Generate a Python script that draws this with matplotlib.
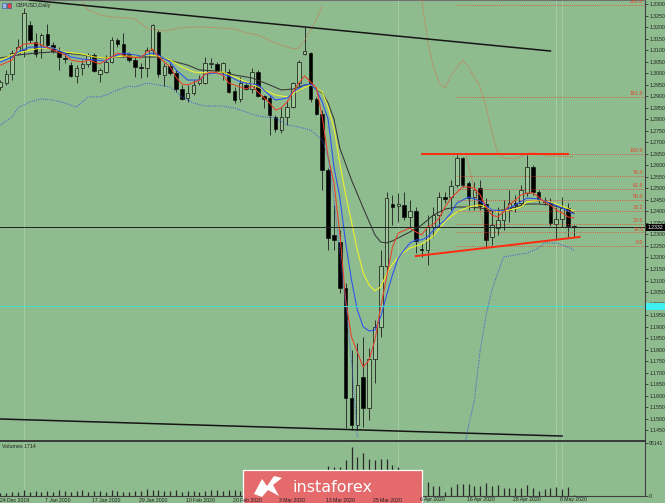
import matplotlib
matplotlib.use('Agg')
import matplotlib.pyplot as plt
import numpy as np
from matplotlib.patches import Rectangle, Polygon

# ---------------- data ----------------
symbol_title = "GBPUSD,Daily"
volume_title = "Volumes 1714"

opens = [
    1.2940, 1.2957, 1.2996, 1.3087, 1.3100, 1.3209, 1.3135, 1.3122, 1.3170, 1.3122,
    1.3096, 1.3066, 1.3035, 1.2988, 1.3022, 1.3040, 1.3079, 1.2996, 1.3005, 1.3048,
    1.3144, 1.3126, 1.3083, 1.3057, 1.3027, 1.3022, 1.3100, 1.3178, 1.2992, 1.3031,
    1.3001, 1.2931, 1.2892, 1.2914, 1.2957, 1.2957, 1.3040, 1.3040, 1.3005, 1.3005,
    1.2923, 1.2888, 1.2949, 1.2931, 1.3005, 1.2901, 1.2892, 1.2810, 1.2753, 1.2810,
    1.2853, 1.2957, 1.3083, 1.3087, 1.2888, 1.2823, 1.2580, 1.2298, 1.2267, 1.2068,
    1.1590, 1.1473, 1.1681, 1.1547, 1.1759, 1.1899, 1.2163, 1.2432, 1.2423, 1.2428,
    1.2376, 1.2402, 1.2237, 1.2232, 1.2332, 1.2384, 1.2462, 1.2462, 1.2514, 1.2632,
    1.2523, 1.2462, 1.2501, 1.2432, 1.2289, 1.2328, 1.2363, 1.2406, 1.2436, 1.2436,
    1.2480, 1.2593, 1.2484, 1.2449, 1.2441, 1.2345, 1.2367, 1.2415, 1.2337]
highs = [
    1.2970, 1.3014, 1.3100, 1.3148, 1.3283, 1.3226, 1.3174, 1.3174, 1.3213, 1.3135,
    1.3113, 1.3087, 1.3048, 1.3035, 1.3057, 1.3087, 1.3087, 1.3022, 1.3079, 1.3157,
    1.3153, 1.3174, 1.3092, 1.3070, 1.3044, 1.3113, 1.3213, 1.3187, 1.3044, 1.3044,
    1.3014, 1.2949, 1.2949, 1.2970, 1.2992, 1.3070, 1.3066, 1.3048, 1.3048, 1.3018,
    1.2940, 1.2983, 1.2957, 1.3022, 1.3014, 1.2905, 1.2905, 1.2818, 1.2853, 1.2883,
    1.2962, 1.3057, 1.3200, 1.3092, 1.2897, 1.2840, 1.2588, 1.2428, 1.2319, 1.2089,
    1.1798, 1.1829, 1.1855, 1.1807, 1.1929, 1.2232, 1.2484, 1.2471, 1.2480, 1.2484,
    1.2449, 1.2419, 1.2263, 1.2384, 1.2419, 1.2484, 1.2484, 1.2536, 1.2645, 1.2636,
    1.2532, 1.2527, 1.2536, 1.2458, 1.2406, 1.2419, 1.2449, 1.2493, 1.2471, 1.2514,
    1.2645, 1.2601, 1.2493, 1.2462, 1.2458, 1.2419, 1.2462, 1.2436, 1.2341]
lows = [
    1.2927, 1.2949, 1.2970, 1.3079, 1.3070, 1.3131, 1.3070, 1.3066, 1.3109, 1.3087,
    1.3014, 1.3044, 1.2983, 1.2957, 1.2992, 1.3027, 1.3005, 1.2962, 1.3001, 1.3044,
    1.3113, 1.3070, 1.3048, 1.2983, 1.2979, 1.2983, 1.3079, 1.2983, 1.2944, 1.2992,
    1.2918, 1.2883, 1.2875, 1.2905, 1.2949, 1.2953, 1.3022, 1.3005, 1.2970, 1.2914,
    1.2870, 1.2875, 1.2927, 1.2914, 1.2897, 1.2849, 1.2731, 1.2745, 1.2740, 1.2775,
    1.2849, 1.2940, 1.3079, 1.2875, 1.2818, 1.2493, 1.2232, 1.2232, 1.2046, 1.1460,
    1.1451, 1.1451, 1.1464, 1.1495, 1.1655, 1.1855, 1.2133, 1.2341, 1.2354, 1.2363,
    1.2332, 1.2219, 1.2202, 1.2167, 1.2289, 1.2332, 1.2436, 1.2406, 1.2506, 1.2506,
    1.2406, 1.2406, 1.2406, 1.2245, 1.2254, 1.2298, 1.2319, 1.2354, 1.2397, 1.2419,
    1.2467, 1.2471, 1.2436, 1.2428, 1.2337, 1.2276, 1.2332, 1.2289, 1.2289]
closes = [
    1.2962, 1.2996, 1.3087, 1.3113, 1.3261, 1.3144, 1.3083, 1.3166, 1.3122, 1.3096,
    1.3070, 1.3061, 1.2988, 1.3022, 1.3040, 1.3079, 1.3009, 1.3014, 1.3048, 1.3144,
    1.3126, 1.3079, 1.3057, 1.3027, 1.3022, 1.3100, 1.3209, 1.2996, 1.3031, 1.3001,
    1.2931, 1.2888, 1.2914, 1.2949, 1.2975, 1.3044, 1.3044, 1.3009, 1.3044, 1.2918,
    1.2883, 1.2957, 1.2931, 1.3005, 1.2901, 1.2888, 1.2818, 1.2758, 1.2810, 1.2853,
    1.2957, 1.3048, 1.3096, 1.2888, 1.2823, 1.2580, 1.2285, 1.2276, 1.2068, 1.1590,
    1.1473, 1.1647, 1.1547, 1.1759, 1.1899, 1.2163, 1.2458, 1.2419, 1.2432, 1.2376,
    1.2402, 1.2272, 1.2232, 1.2332, 1.2384, 1.2462, 1.2454, 1.2510, 1.2632, 1.2514,
    1.2458, 1.2493, 1.2423, 1.2276, 1.2341, 1.2363, 1.2406, 1.2436, 1.2428, 1.2493,
    1.2593, 1.2484, 1.2449, 1.2441, 1.2350, 1.2367, 1.2415, 1.2337, 1.2332]
volumes = [
    5385, 5385, 7180, 7180, 10770, 7180, 8975, 7180,
    8975, 7180, 10770, 8975, 7180, 8975, 10770, 7180,
    8975, 8975, 7180, 10770, 8975, 7180, 7180, 8975,
    8975, 12565, 10770, 10770, 8975, 8975, 10770, 7180,
    8975, 8975, 7180, 8975, 10770, 10770, 8975, 10770,
    10770, 8975, 8975, 10770, 12565, 12565, 16155, 17950,
    17950, 19745, 17950, 23335, 28720, 32310, 35900, 43080,
    53850, 52055, 52055, 64620, 87955, 70005, 77185, 66415, 64620, 66415, 66415,
    55645, 52055, 35900, 32310, 28720, 26925,
    25130, 17950, 17950, 7180, 16155, 21540, 21540, 21540, 17950, 17950, 23335,
    17950, 19745, 14360, 14360, 14360, 14360, 19745, 14360, 8975, 12565, 14360,
    16155, 12565, 16155, 1795]
volume_max_label = 95141

date_label_bars = [0, 8, 16, 24, 32, 40, 48, 56, 64, 72, 80, 88, 96]
date_labels = ["24 Dec 2019", "7 Jan 2020", "17 Jan 2020", "29 Jan 2020",
               "10 Feb 2020", "20 Feb 2020", "3 Mar 2020", "13 Mar 2020",
               "25 Mar 2020", "6 Apr 2020", "16 Apr 2020", "28 Apr 2020",
               "8 May 2020"]

nan = float('nan')
ma_red_bars = [0, 2, 3, 4, 6, 7, 9, 11, 12, 14, 15, 17, 18, 19, 20, 21, 22, 24, 25, 26,
               27, 29, 30, 31, 32, 34, 35, 36, 37, 38, 39, 41, 42, 43, 44, 46, 47, 48, 49, 50,
               51, 52, 53, 54, 55, 56, 57, 58, 59, 60, 62, 63, 64, 65, 66, 67, 68, 70, 71, 72,
               73, 74, 75, 76, 77, 79, 80, 81, 82, 83, 84, 85, 86, 87, 88, 89, 90, 91, 92, 93,
               94, 95, 96, 97, 98]
ma_red = [1.3035, 1.3057, 1.3109, 1.3126, 1.3131, 1.3122, 1.3100, 1.3079, 1.3057, 1.3048,
          1.3057, 1.3040, 1.3057, 1.3070, 1.3087, 1.3079, 1.3070, 1.3066, 1.3092, 1.3105,
          1.3070, 1.3027, 1.2983, 1.2953, 1.2949, 1.2970, 1.2996, 1.3005, 1.3001, 1.2992,
          1.2957, 1.2940, 1.2931, 1.2944, 1.2918, 1.2870, 1.2840, 1.2849, 1.2875, 1.2918,
          1.2957, 1.2988, 1.2962, 1.2936, 1.2810, 1.2636, 1.2523, 1.2306, 1.2015, 1.1855,
          1.1724, 1.1755, 1.1842, 1.1985, 1.2115, 1.2245, 1.2306, 1.2328, 1.2311, 1.2298,
          1.2332, 1.2345, 1.2371, 1.2419, 1.2458, 1.2506, 1.2506, 1.2501, 1.2471, 1.2419,
          1.2384, 1.2376, 1.2397, 1.2428, 1.2449, 1.2471, 1.2480, 1.2480, 1.2462, 1.2441,
          1.2428, 1.2406, 1.2393, 1.2376, 1.2371]

ma_blue_bars = [0, 2, 3, 5, 7, 9, 11, 12, 14, 16, 18, 19, 21, 23, 24, 26, 27, 29, 30, 32,
                34, 35, 37, 39, 41, 42, 44, 46, 47, 49, 50, 52, 53, 54, 55, 56, 57, 58, 59, 60,
                61, 62, 63, 64, 65, 66, 67, 68, 69, 70, 71, 72, 73, 74, 76, 77, 78, 80, 82, 84,
                86, 88, 90, 92, 94, 96, 98]
ma_blue = [1.3048, 1.3070, 1.3092, 1.3113, 1.3113, 1.3109, 1.3087, 1.3070, 1.3061, 1.3057,
           1.3053, 1.3070, 1.3087, 1.3079, 1.3074, 1.3087, 1.3079, 1.3048, 1.3014, 1.2970,
           1.2970, 1.2996, 1.3001, 1.2988, 1.2962, 1.2957, 1.2949, 1.2905, 1.2883, 1.2892,
           1.2918, 1.2949, 1.2953, 1.2927, 1.2875, 1.2800, 1.2593, 1.2462, 1.2263, 1.2102,
           1.1972, 1.1899, 1.1881, 1.1885, 1.1942, 1.2037, 1.2124, 1.2198, 1.2232, 1.2263,
           1.2276, 1.2276, 1.2289, 1.2319, 1.2363, 1.2393, 1.2436, 1.2462, 1.2445, 1.2406,
           1.2402, 1.2428, 1.2458, 1.2454, 1.2436, 1.2415, 1.2389]

ma_yellow_bars = [0, 2, 5, 7, 9, 11, 14, 16, 18, 21, 23, 25, 27, 29, 31, 33, 35, 38, 40, 42,
                  44, 47, 49, 51, 53, 55, 56, 57, 58, 59, 60, 61, 62, 63, 64, 65, 66, 67, 68, 69,
                  70, 72, 74, 76, 78, 80, 82, 85, 87, 89, 90, 92, 94, 96, 98]
ma_yellow = [1.3057, 1.3079, 1.3100, 1.3109, 1.3109, 1.3092, 1.3083, 1.3070, 1.3066, 1.3074,
             1.3074, 1.3079, 1.3074, 1.3057, 1.3027, 1.3005, 1.3001, 1.3005, 1.2983, 1.2962,
             1.2940, 1.2905, 1.2897, 1.2927, 1.2949, 1.2918, 1.2853, 1.2762, 1.2610, 1.2471,
             1.2354, 1.2232, 1.2133, 1.2081, 1.2055, 1.2072, 1.2128, 1.2172, 1.2202, 1.2224,
             1.2241, 1.2258, 1.2293, 1.2358, 1.2397, 1.2419, 1.2428, 1.2397, 1.2406, 1.2419,
             1.2441, 1.2449, 1.2441, 1.2423, 1.2402]

ma_gray_bars = [0, 3, 6, 9, 11, 14, 17, 20, 23, 26, 27, 30, 32, 34, 37, 40, 43, 46, 48, 50,
                52, 53, 55, 56, 57, 58, 60, 62, 64, 65, 66, 67, 68, 70, 72, 74, 76, 78, 80, 82,
                84, 86, 88, 90, 92, 94, 96, 98]
ma_gray = [1.3066, 1.3079, 1.3087, 1.3092, 1.3087, 1.3079, 1.3066, 1.3070, 1.3070, 1.3070,
           1.3070, 1.3048, 1.3035, 1.3014, 1.3009, 1.2992, 1.2979, 1.2949, 1.2927, 1.2931,
           1.2949, 1.2949, 1.2914, 1.2870, 1.2801, 1.2675, 1.2536, 1.2415, 1.2298, 1.2267,
           1.2263, 1.2272, 1.2285, 1.2311, 1.2341, 1.2384, 1.2410, 1.2419, 1.2419, 1.2415,
           1.2402, 1.2406, 1.2419, 1.2432, 1.2432, 1.2428, 1.2415, 1.2393]

band_upper_bars = [14, 15, 17, 19, 22, 23, 25, 27, 28, 30, 32, 35, 38, 40, 42, 44, 47, 50, 51, 52,
                   54, 55, 56, 71, 72, 73, 74, 75, 76, 77, 79, 80, 82, 83, 84, 85, 86, 88, 90, 91,
                   92, 94, 96, 98]
band_upper = [1.3304, 1.3274, 1.3252, 1.3244, 1.3239, 1.3235, 1.3196, 1.3187, 1.3183, 1.3192,
              1.3200, 1.3200, 1.3196, 1.3192, 1.3174, 1.3166, 1.3131, 1.3105, 1.3109, 1.3144,
              1.3231, 1.3290, nan, nan, 1.3317, 1.3144, 1.3027, 1.2957, 1.2936, 1.2990,
              1.3057, 1.3027, 1.2940, 1.2853, 1.2740, 1.2653, 1.2632, 1.2628, 1.2649, 1.2658,
              1.2649, 1.2640, 1.2640, 1.2636]

band_lower_bars = [0, 2, 3, 5, 7, 9, 11, 13, 15, 17, 18, 20, 22, 23, 25, 27, 29, 31, 33, 35,
                   38, 40, 42, 44, 47, 49, 51, 53, 55, 56, 57, 58, 59, 60, 61, 62, 79, 80, 81, 82,
                   83, 84, 85, 86, 88, 90, 92, 93, 94, 95, 96, 97, 98]
band_lower = [1.2775, 1.2810, 1.2849, 1.2875, 1.2888, 1.2883, 1.2870, 1.2853, 1.2897, 1.2897,
              1.2905, 1.2927, 1.2944, 1.2940, 1.2957, 1.2949, 1.2940, 1.2897, 1.2870, 1.2857,
              1.2857, 1.2849, 1.2831, 1.2814, 1.2805, 1.2775, 1.2766, 1.2753, 1.2710, 1.2636,
              1.2454, 1.2224, 1.1998, 1.1755, 1.1420, nan, 1.1330, 1.1469, 1.1581, 1.1798,
              1.1950, 1.2059, 1.2133, 1.2202, 1.2211, 1.2219, 1.2241, 1.2263, 1.2263, 1.2263,
              1.2254, 1.2245, 1.2232]

fib_low, fib_high = 1.2250, 1.2650
fib_levels = [0.0, 14.6, 23.6, 38.2, 50.0, 61.8, 76.4, 100.0, 161.8, 261.8]
fib_start_bar = 78
fib_diag_bars = [79.5, 83.5]

current_price = 1.2332
cyan_level = 1.1990
resist_bars, resist_price = [72, 97], 1.2650
support_bars, support_prices = [71, 99], [1.2206, 1.2289]
upper_trend_bars, upper_trend_prices = [5, 94], [1.3317, 1.3096]
lower_trend_bars, lower_trend_prices = [0, 96], [1.1499, 1.1425]
separator_bars = [4, 68, 95, 96]

# ---------------- style ----------------
BG = '#8fbc8f'
BULL_FILL = '#9cc798'
FONT = ['Liberation Sans', 'DejaVu Sans']
plt.rcParams['font.family'] = FONT
W, H = 665, 503
fig = plt.figure(figsize=(W / 100, H / 100), dpi=100, facecolor=BG)


def rect(l, t, r, b):
    return [l / W, 1 - b / H, (r - l) / W, (b - t) / H]


ax = fig.add_axes(rect(0, 0, 645, 441), facecolor=BG)
axv = fig.add_axes(rect(0, 442, 645, 496), facecolor=BG)

xlim = (-0.085, 110.17)
ax.set_xlim(*xlim)
axv.set_xlim(*xlim)
ax.set_ylim(1.14035, 1.33174)

n = len(opens)
xs = np.arange(n)
dark = '#1e1e1e'
for i in range(n):
    o, h, l, c = opens[i], highs[i], lows[i], closes[i]
    top, bot = max(o, c), min(o, c)
    ax.plot([i, i], [top, h], color=dark, lw=0.6, zorder=2, solid_capstyle='butt')
    ax.plot([i, i], [l, bot], color=dark, lw=0.6, zorder=2, solid_capstyle='butt')
    hgt = max(top - bot, 0.00006)
    if c > o:
        ax.add_patch(Rectangle((i - 0.3, bot), 0.6, hgt, facecolor=BULL_FILL,
                               edgecolor=dark, lw=0.55, zorder=3))
    else:
        ax.add_patch(Rectangle((i - 0.3, bot), 0.6, hgt, facecolor='black',
                               edgecolor='black', lw=0.4, zorder=3))

# moving averages
ax.plot(ma_gray_bars, ma_gray, color='#353535', lw=0.75, zorder=4)
ax.plot(ma_yellow_bars, ma_yellow, color='#f2f22a', lw=0.75, zorder=4)
ax.plot(ma_blue_bars, ma_blue, color='#2b4ff0', lw=0.75, zorder=4)
ax.plot(ma_red_bars, ma_red, color='#e8402a', lw=0.75, zorder=4)
# bands
ax.plot(band_upper_bars, band_upper, color='#d8653e', lw=0.7, ls=(0, (1, 1.3)), zorder=4)
ax.plot(band_lower_bars, band_lower, color='#3858d8', lw=0.7, ls=(0, (1, 1.3)), zorder=4)

# fibo levels
red_fib = '#e8402a'
for lev in fib_levels:
    p = fib_low + (fib_high - fib_low) * lev / 100.0
    ax.plot([fib_start_bar, xlim[1]], [p, p], color=red_fib, lw=0.6,
            ls=(0, (1, 1.5)), zorder=4)
    ax.text(109.9, p + 0.0004, f"{lev:.1f}", color=red_fib, fontsize=3.8,
            ha='right', va='bottom', zorder=6)
ax.plot(fib_diag_bars, [fib_high, fib_low], color=red_fib, lw=0.6,
        ls=(0, (1, 1.5)), zorder=4)

# horizontal lines
ax.axhline(current_price, color='#202020', lw=0.7, zorder=5)
ax.axhline(cyan_level, color='#40e0d0', lw=0.7, zorder=5)

# trend lines
ax.plot(resist_bars, [resist_price, resist_price], color='#ff2a10', lw=1.4, zorder=6)
ax.plot(support_bars, support_prices, color='#ff2a10', lw=1.4, zorder=6)
ax.plot(upper_trend_bars, upper_trend_prices, color='#151515', lw=1.1, zorder=6)
ax.plot(lower_trend_bars, lower_trend_prices, color='#151515', lw=1.1, zorder=6)

# period separators
for b in separator_bars:
    for a in (ax, axv):
        a.axvline(b, color='#cfe6c8', lw=0.6, ls=(0, (1, 1.5)), zorder=1)

# volumes
axv.vlines(xs, 0, volumes, color='#2a2a2a', lw=0.9, zorder=3)
axv.set_ylim(0, 97000)

# axes styling
for a in (ax, axv):
    a.yaxis.tick_right()
    a.set_xticks([])
    a.tick_params(axis='y', length=2, width=0.5, labelsize=3.7, pad=1,
                  colors='#202020', labelcolor='#202020')
    a.spines['left'].set_visible(False)
    a.spines['right'].set_color('#404040')
    a.spines['right'].set_linewidth(0.8)

ax.spines['top'].set_color('#707070')
ax.spines['top'].set_linewidth(1.5)
ax.spines['bottom'].set_color('#303030')
ax.spines['bottom'].set_linewidth(1.3)
axv.spines['top'].set_visible(False)
axv.spines['bottom'].set_color('#404040')
axv.spines['bottom'].set_linewidth(0.8)

yt = np.round(np.arange(1.1450, 1.33001, 0.005), 4)
ax.set_yticks(yt)
ax.set_yticklabels([f"{v:.4f}" for v in yt])
axv.set_yticks([0, volume_max_label])
axv.set_yticklabels(['0', str(volume_max_label)])

# overlay in pixel coordinates for texts and boxes
ov = fig.add_axes([0, 0, 1, 1], zorder=20)
ov.set_xlim(0, W)
ov.set_ylim(H, 0)
ov.axis('off')
ov.patch.set_alpha(0)

# title
ov.add_patch(Rectangle((1.5, 2.5), 4.5, 5, facecolor='#a0b8e8', edgecolor='#3050a0', lw=0.4))
ov.add_patch(Rectangle((6.5, 2.5), 4.5, 5, facecolor='#e84040', edgecolor='#3050a0', lw=0.4))
ov.text(16, 5.2, symbol_title, fontsize=3.8, color='#202020', ha='left', va='center')
ov.text(2, 446, volume_title, fontsize=3.8, color='#202020', ha='left', va='center')

# date labels (placed at their bar positions)
for b, lab in zip(date_label_bars, date_labels):
    px = (b - xlim[0]) / (xlim[1] - xlim[0]) * 645
    ov.text(px - 2 if b > 0 else 0.5, 500, lab, fontsize=3.7, color='#202020',
            ha='left', va='center')

# price boxes on right axis
ov.add_patch(Rectangle((646, 223.5), 19, 7.5, facecolor='black', edgecolor='none'))
ov.text(648, 227.3, f"{current_price:.4f}", fontsize=3.7, color='white',
        ha='left', va='center')
ov.add_patch(Rectangle((646, 302.5), 19, 7.0, facecolor='#40f0f0', edgecolor='none'))

# logo
ov.add_patch(Rectangle((243, 470), 179, 35, facecolor='#e46a6b', edgecolor='white', lw=0.9))
ov.add_patch(Polygon([(254, 494), (262, 479), (267, 486), (274, 476), (282, 478),
                      (273, 485), (279, 496), (268, 490), (262, 497)],
                     closed=True, facecolor='white', edgecolor='none'))
ov.text(332, 487, 'instaforex', fontsize=11.5, color='white', ha='center',
        va='center', family=['DejaVu Sans'])

fig.savefig('out.png', dpi=100, facecolor=BG)
